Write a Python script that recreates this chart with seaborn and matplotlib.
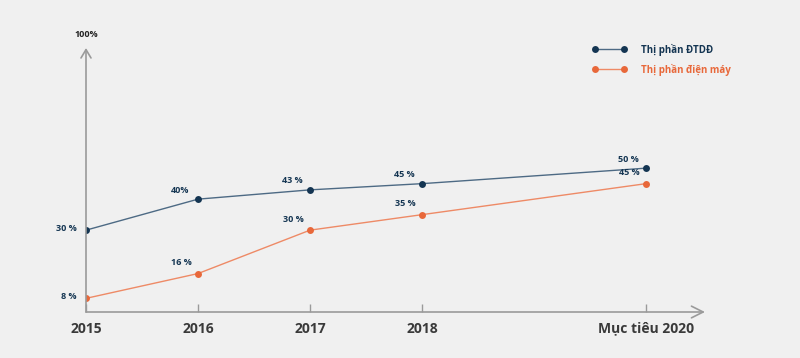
import matplotlib
matplotlib.use("Agg")
import matplotlib.pyplot as plt
import seaborn as sns
import pandas as pd
from matplotlib.lines import Line2D

years = [2015, 2016, 2017, 2018, 2020]
tick_labels = ["2015", "2016", "2017", "2018", "Mục tiêu 2020"]
dtdd = [30, 40, 43, 45, 50]
dienmay = [8, 16, 30, 35, 45]
dtdd_labels = ["30 %", "40%", "43 %", "45 %", "50 %"]
dienmay_labels = ["8 %", "16 %", "30 %", "35 %", "45 %"]
series_names = ["Thị phần ĐTDĐ", "Thị phần điện máy"]

navy = "#143552"
navy_line = "#4d6a84"
orange = "#e8683a"
orange_line = "#ee8a66"
bg = "#f0f0f0"
axis_gray = "#9a9a9a"

sns.set_theme(style="white")
plt.rcParams["font.family"] = ["Open Sans", "DejaVu Sans"]

fig = plt.figure(figsize=(8, 3.58), dpi=100, facecolor=bg)
ax = fig.add_axes([86/800, (358-312)/358, (705-86)/800, (312-48)/358])
ax.set_facecolor(bg)

df = pd.DataFrame({
    "year": years * 2,
    "value": dtdd + dienmay,
    "series": [series_names[0]] * 5 + [series_names[1]] * 5,
})

sns.lineplot(data=df[df.series == series_names[0]], x="year", y="value", ax=ax,
             color=navy_line, linewidth=1.0, marker="o", markersize=5, markeredgewidth=0,
             markerfacecolor=navy, legend=False, zorder=3)
sns.lineplot(data=df[df.series == series_names[1]], x="year", y="value", ax=ax,
             color=orange_line, linewidth=1.0, marker="o", markersize=5, markeredgewidth=0,
             markerfacecolor=orange, legend=False, zorder=3)

ax.set_xlim(2015, 2015 + (705-86)/112)
ax.set_ylim(3.6, 3.6 + (312-48)/3.1)

# data labels
for i, (x, v, lab) in enumerate(zip(years, dtdd, dtdd_labels)):
    if i == 0:
        ax.annotate(lab, (x, v), xytext=(-7, 1), textcoords="offset points",
                    ha="right", va="center", fontsize=6.5, fontweight="bold", color=navy)
    else:
        ax.annotate(lab, (x, v), xytext=(-13, 6.5), textcoords="offset points",
                    ha="center", va="center", fontsize=6.5, fontweight="bold", color=navy)
for i, (x, v, lab) in enumerate(zip(years, dienmay, dienmay_labels)):
    if i == 0:
        ax.annotate(lab, (x, v), xytext=(-7, 1), textcoords="offset points",
                    ha="right", va="center", fontsize=6.5, fontweight="bold", color=navy)
    else:
        ax.annotate(lab, (x, v), xytext=(-12, 8), textcoords="offset points",
                    ha="center", va="center", fontsize=6.5, fontweight="bold", color=navy)

# axes as arrows
for s in ax.spines.values():
    s.set_visible(False)
ax.annotate("", xy=(1.0, 0), xytext=(0, 0), xycoords="axes fraction",
            arrowprops=dict(arrowstyle="->,head_length=0.7,head_width=0.35",
                            color=axis_gray, lw=1.2, shrinkA=0, shrinkB=0))
ax.annotate("", xy=(0, 1.0), xytext=(0, 0), xycoords="axes fraction",
            arrowprops=dict(arrowstyle="->,head_length=0.5,head_width=0.3",
                            color=axis_gray, lw=1.2, shrinkA=0, shrinkB=0))
ax.text(0, 1.035, "100%", transform=ax.transAxes, ha="center", va="bottom",
        fontsize=6.5, fontweight="bold", color="#222222")

ax.set_xticks(years)
ax.set_xticklabels(tick_labels, fontsize=10, fontweight="bold", color="#3a3a3a")
ax.tick_params(axis="x", direction="in", length=6, width=1, color=axis_gray,
               bottom=True, pad=7)
ax.set_yticks([])
ax.set_xlabel("")
ax.set_ylabel("")

handles = [
    Line2D([0], [0], color=navy_line, lw=1.0, marker="o", markersize=5, markeredgewidth=0,
           markerfacecolor=navy),
    Line2D([0], [0], color=orange_line, lw=1.0, marker="o", markersize=5, markeredgewidth=0,
           markerfacecolor=orange),
]
leg = fig.legend(handles, series_names, loc="upper left",
                 bbox_to_anchor=(583/800, 1 - 35/358), numpoints=2,
                 handlelength=3.6, handletextpad=1.5, labelspacing=0.8,
                 frameon=False, prop={"size": 7, "weight": "bold"})
for t, c in zip(leg.get_texts(), [navy, orange]):
    t.set_color(c)

fig.savefig("out.png", dpi=100, facecolor=bg)
